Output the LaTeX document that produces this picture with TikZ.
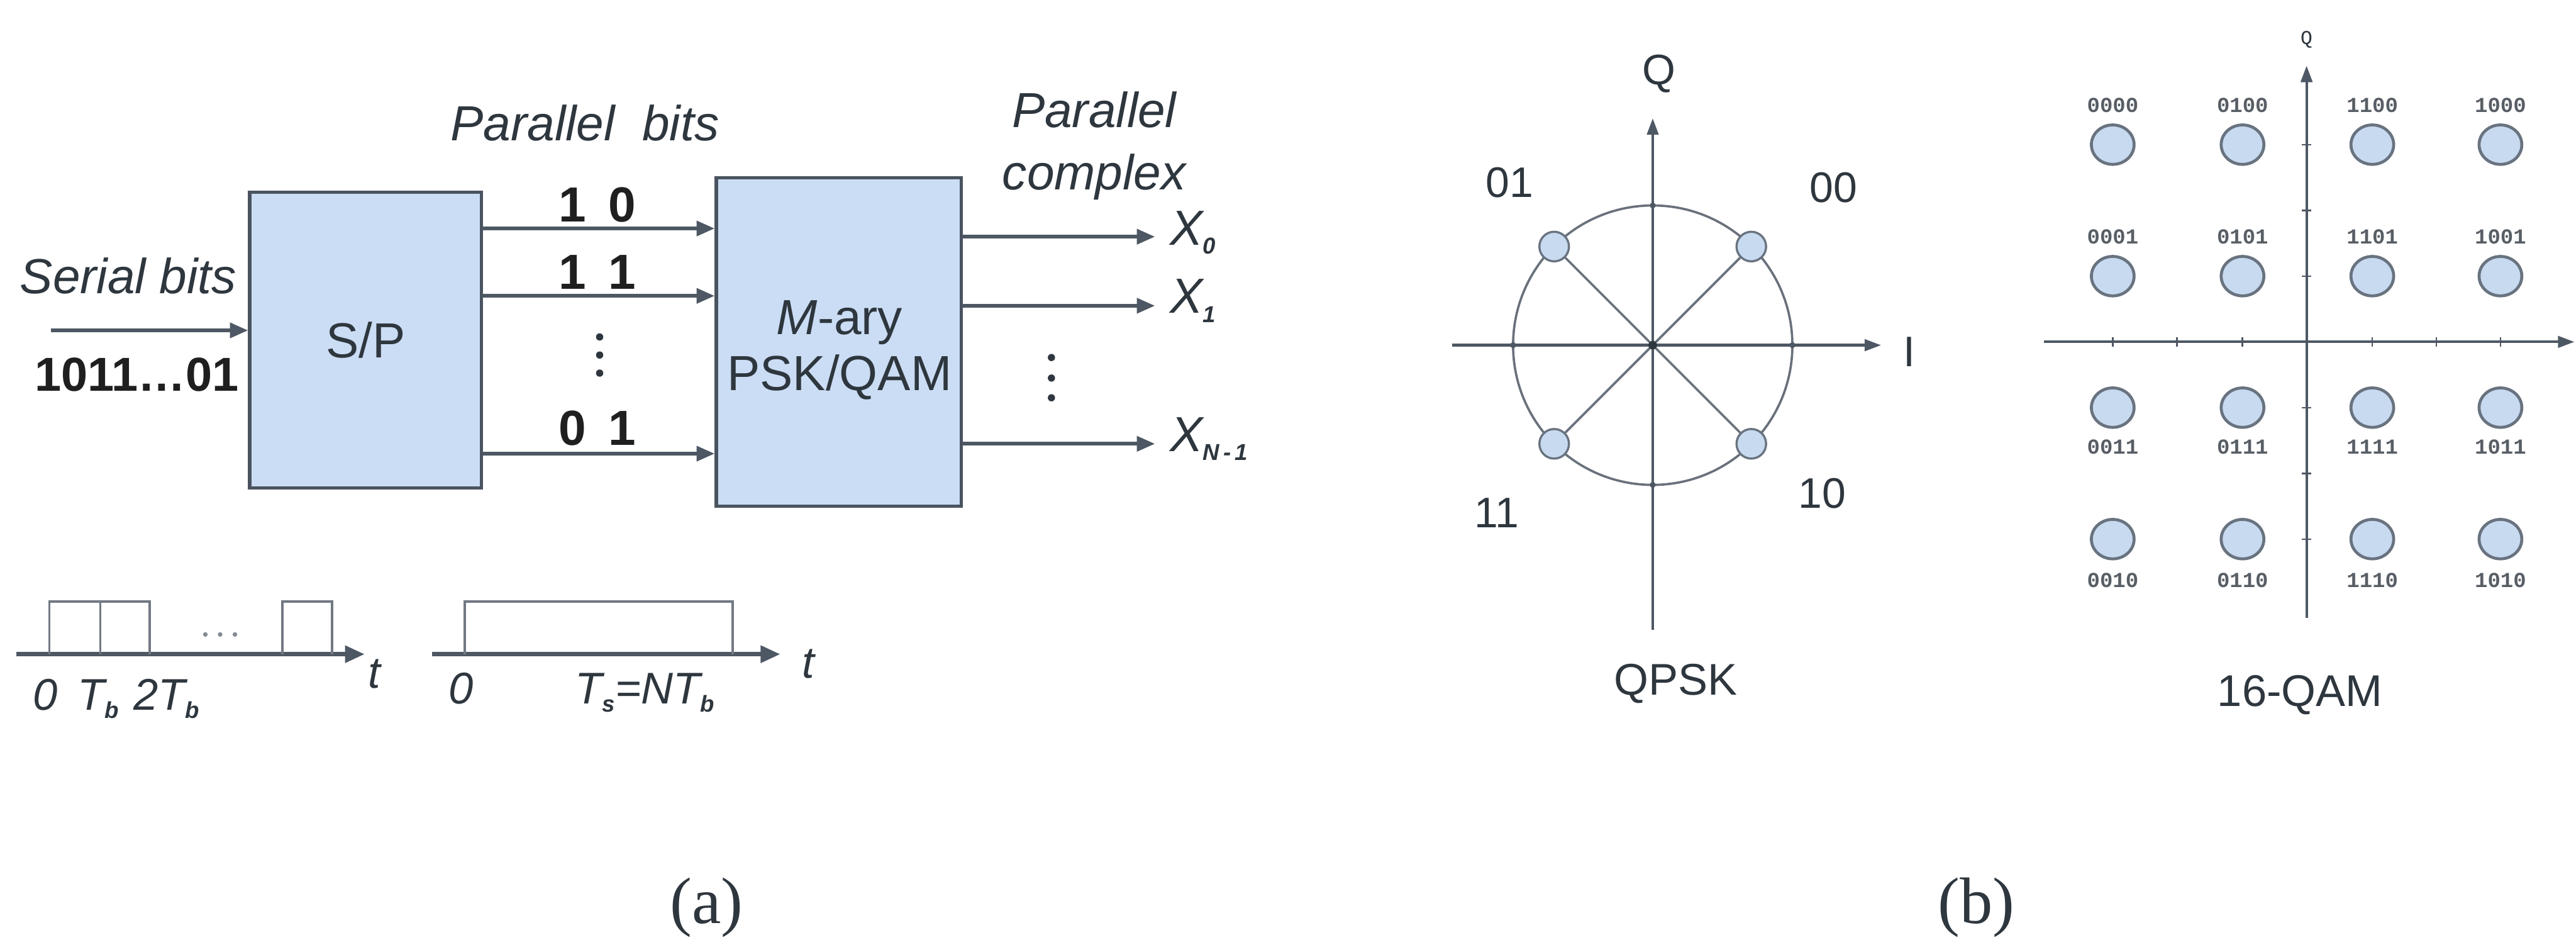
\documentclass[tikz,border=0pt]{standalone}
\usepackage{fontspec}
\setmainfont{Liberation Sans}
\newfontfamily\serifff{Liberation Serif}
\newfontfamily\monoff{Liberation Mono}
\usetikzlibrary{arrows.meta}
\definecolor{boxfill}{RGB}{203,221,244}
\definecolor{boxline}{RGB}{74,84,96}
\definecolor{txt}{RGB}{46,54,62}
\definecolor{linec}{RGB}{78,88,100}
\definecolor{dotfill}{RGB}{200,218,240}
\definecolor{dotline}{RGB}{105,115,128}
\newcommand\fsz[2]{\fontsize{#1}{#2}\selectfont}
\newcommand\lowsub[1]{\raisebox{-0.35ex}{\fontsize{14}{14}\selectfont\itshape\bfseries #1}}
\tikzset{
  blk/.style={draw=boxline, fill=boxfill, line width=2pt, inner sep=0pt},
  lab/.style={text=txt, inner sep=0pt},
  arr/.style={draw=linec, line width=2.2pt, -{Triangle[length=11pt,width=9pt]}},
  tarr/.style={draw=linec, line width=2.8pt, -{Triangle[length=12pt,width=10pt]}},
  pulse/.style={draw=linec!80, line width=1.4pt},
  qaxis/.style={draw=linec, line width=1.6pt, -{Triangle[length=10pt,width=7pt]}},
  qline/.style={draw=linec!85, line width=1.4pt},
  qdot/.style={circle, draw=dotline, fill=dotfill, line width=1.3pt, minimum size=18pt, inner sep=0pt},
  bigdot/.style={ellipse, draw=dotline, fill=dotfill, line width=1.8pt, minimum width=26pt, minimum height=24pt, inner sep=0pt},
  qlab/.style={text=txt!80, inner sep=0pt, font=\monoff\bfseries\fsz{13}{13}},
  bit/.style={text=black!88, inner sep=0pt, font=\bfseries\fsz{30}{30}},
  smalldot/.style={circle, fill=txt, inner sep=0pt, minimum size=4.4pt},
}
\usetikzlibrary{shapes.geometric}
\begin{document}
\begin{tikzpicture}[x=1pt,y=-1pt]
\path[use as bounding box, fill=white] (0,0) rectangle (1568,579);

% ---------------- (a) block diagram ----------------
\node[lab, anchor=west, font=\itshape\fsz{30}{30}] (serial) at (12,168) {Serial bits};
\node[lab, anchor=west, font=\bfseries\fsz{29}{29}, text=black!88] (bits) at (21,228) {1011…01};
\node[blk, minimum width=141pt, minimum height=180pt] (SP) at (222.5,207) {};
\node[lab, font=\fsz{30}{30}] (SPt) at (222.5,207) {S/P};
\node[blk, minimum width=149pt, minimum height=200pt] (MA) at (510.5,208) {};
\node[lab, font=\fsz{30}{34}, align=center] (MAt) at (511,213) {\textit{M}-ary\\PSK/QAM};

\coordinate (in) at (31,201);
\draw[arr] (in) -- (in -| SP.west);

\node[lab, font=\itshape\fsz{30}{30}] (pb) at (356,75) {Parallel\ \ bits};
\coordinate (p1) at (0,139);
\coordinate (p2) at (0,180);
\coordinate (p3) at (0,276);
\draw[arr] (p1 -| SP.east) -- (p1 -| MA.west);
\draw[arr] (p2 -| SP.east) -- (p2 -| MA.west);
\draw[arr] (p3 -| SP.east) -- (p3 -| MA.west);
\node[bit] (b1) at (363.5,124.5) {1\hspace{0.45em}0};
\node[bit] (b2) at (363.5,165.5) {1\hspace{0.45em}1};
\node[bit] (b3) at (363.5,260.5) {0\hspace{0.45em}1};
\node[smalldot] (v1) at (365,205) {};
\node[smalldot] (v2) at (365,216) {};
\node[smalldot] (v3) at (365,227) {};

\node[lab, anchor=base, font=\itshape\fsz{30}{30}] (par) at (666,77.7) {Parallel};
\node[lab, anchor=base, font=\itshape\fsz{30}{30}] (cpx) at (666,115.5) {complex};
\coordinate (e0) at (703,144);
\coordinate (e1) at (703,186);
\coordinate (e2) at (703,270);
\draw[arr] (e0 -| MA.east) -- (e0);
\draw[arr] (e1 -| MA.east) -- (e1);
\draw[arr] (e2 -| MA.east) -- (e2);
\node[lab, anchor=west, font=\itshape\fsz{30}{30}] (X0) at (712,141.5) {X\lowsub{0}};
\node[lab, anchor=west, font=\itshape\fsz{30}{30}] (X1) at (712,183) {X\lowsub{1}};
\node[lab, anchor=west, font=\itshape\fsz{30}{30}] (XN) at (712,267) {X\lowsub{N\,-\,1}};
\node[smalldot] (w1) at (640,217.5) {};
\node[smalldot] (w2) at (640,230) {};
\node[smalldot] (w3) at (640,242) {};

% timelines
\coordinate (ta0) at (10,398);
\coordinate (ta1) at (222,398);
\draw[tarr] (ta0) -- (ta1);
\draw[pulse] (30,398) -- (30,366) -- (91,366) -- (91,398);
\draw[pulse] (61,366) -- (61,398);
\draw[pulse] (172,398) -- (172,366) -- (202,366) -- (202,398);
\fill[linec!70] (125,386) circle[radius=1.4pt] (134,386) circle[radius=1.4pt] (143,386) circle[radius=1.4pt];
\node[lab, anchor=base west, font=\itshape\fsz{27}{27}] (t0) at (20,432) {0};
\node[lab, anchor=base west, font=\itshape\fsz{27}{27}] (tb) at (47,432) {T\lowsub{b}};
\node[lab, anchor=base west, font=\itshape\fsz{27}{27}] (t2b) at (81,432) {2T\lowsub{b}};
\node[lab, font=\itshape\fsz{27}{27}] (tt1) at (228,410) {t};

\coordinate (tb0) at (263,398);
\coordinate (tb1) at (475,398);
\draw[tarr] (tb0) -- (tb1);
\draw[pulse] (283,398) -- (283,366) -- (446,366) -- (446,398);
\node[lab, anchor=base west, font=\itshape\fsz{27}{27}] (s0) at (273,428) {0};
\node[lab, anchor=base west, font=\itshape\fsz{27}{27}] (ts) at (350,428) {T\lowsub{s}=NT\lowsub{b}};
\node[lab, font=\itshape\fsz{27}{27}] (tt2) at (492,404) {t};

\node[lab, font=\serifff\fsz{40}{40}] (capa) at (430,552) {(a)};

% ---------------- QPSK ----------------
\coordinate (C) at (1006,210);
\coordinate (Il) at (884,210);
\coordinate (Ir) at (1145,210);
\coordinate (Qb) at (1006,383);
\coordinate (Qt) at (1006,72);
\draw[qaxis] (Il) -- (Ir);
\draw[qaxis] (Qb) -- (Qt);
\draw[qline] (C) circle[radius=85pt];
\node[qdot] (q01) at (946,150) {};
\node[qdot] (q00) at (1066,150) {};
\node[qdot] (q11) at (946,270) {};
\node[qdot] (q10) at (1066,270) {};
\draw[qline] (q01) -- (q10);
\draw[qline] (q00) -- (q11);
\fill[txt] (C) circle[radius=2.6pt];
\fill[linec] (921,210) circle[radius=1.8pt] (1091,210) circle[radius=1.8pt] (1006,125) circle[radius=1.8pt] (1006,295) circle[radius=1.8pt];
\node[lab, font=\fsz{26}{26}] (l01) at (919,111) {01};
\node[lab, font=\fsz{26}{26}] (l00) at (1116,114) {00};
\node[lab, font=\fsz{26}{26}] (l11) at (911,312) {11};
\node[lab, font=\fsz{26}{26}] (l10) at (1109,300) {10};
\node[lab, font=\fsz{26}{26}] (lQ) at (1010,45) {Q};
\node[lab, font=\fsz{26}{26}] (lI) at (1162,214) {I};
\node[lab, font=\fsz{27}{27}] (lqpsk) at (1020,416) {QPSK};

% ---------------- 16-QAM ----------------
\coordinate (Hl) at (1244,208);
\coordinate (Hr) at (1567,208);
\coordinate (Vb) at (1404,376);
\coordinate (Vt) at (1404,40);
\draw[qaxis] (Hl) -- (Hr);
\draw[qaxis] (Vb) -- (Vt);
\foreach \tx in {1286,1325,1365,1444,1483,1522} \draw[linec, line width=1pt] (\tx,205) -- (\tx,211);
\foreach \ty in {88,128,168,248,288,328} \draw[linec, line width=1pt] (1401,\ty) -- (1407,\ty);
\node[lab, font=\monoff\fsz{12}{12}] (q16Q) at (1404,24) {Q};
\foreach \x/\y/\t/\dy in {
  1286/88/0000/-24, 1365/88/0100/-24, 1444/88/1100/-24, 1522/88/1000/-24,
  1286/168/0001/-24, 1365/168/0101/-24, 1444/168/1101/-24, 1522/168/1001/-24,
  1286/248/0011/24, 1365/248/0111/24, 1444/248/1111/24, 1522/248/1011/24,
  1286/328/0010/25, 1365/328/0110/25, 1444/328/1110/25, 1522/328/1010/25} {
  \node[bigdot] (d\t) at (\x,\y) {};
  \node[qlab] (n\t) at (\x,{\y+\dy}) {\t};
}
\node[lab, font=\fsz{27}{27}] (l16) at (1400,423) {16-QAM};

\node[lab, font=\serifff\fsz{40}{40}] (capb) at (1203,552) {(b)};
\end{tikzpicture}
\end{document}
